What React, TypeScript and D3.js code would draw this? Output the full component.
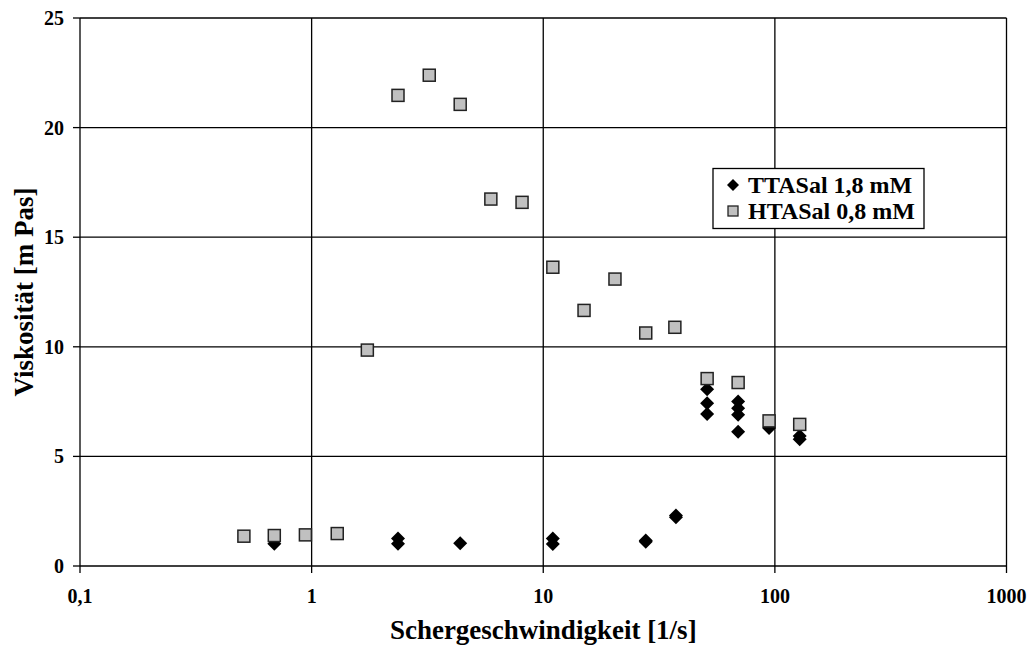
import React, { useEffect, useRef } from "react";
import * as d3 from "d3";

// Schergeschwindigkeit [1/s] and Viskosität [m Pas]
const ttasalX = [0.69, 2.36, 2.36, 4.38, 11.0, 11.0, 27.7, 27.7, 37.4, 37.4, 51, 51, 51, 69.4, 69.4, 69.4, 69.4, 94.4, 128, 128];
const ttasalY = [1.02, 1.26, 1.02, 1.04, 1.25, 1.0, 1.11, 1.16, 2.22, 2.3, 8.06, 7.42, 6.93, 7.5, 7.2, 6.9, 6.13, 6.3, 5.93, 5.78];

const htasalX = [0.51, 0.69, 0.94, 1.29, 1.74, 2.36, 3.22, 4.38, 5.94, 8.1, 11.0, 15.0, 20.4, 27.7, 37.0, 51, 69.4, 94.4, 128];
const htasalY = [1.36, 1.39, 1.42, 1.48, 9.85, 21.47, 22.39, 21.06, 16.74, 16.59, 13.63, 11.66, 13.09, 10.63, 10.89, 8.55, 8.37, 6.62, 6.46];

const xTicks = [0.1, 1, 10, 100, 1000];
const xTickLabels = ["0,1", "1", "10", "100", "1000"];
const yTicks = [0, 5, 10, 15, 20, 25];

const seriesNames = ["TTASal 1,8 mM", "HTASal 0,8 mM"];

// diamond as a square turned by 45 degrees
const diamondPath = (r: number) => `M0,${-r}L${r},0L0,${r}L${-r},0Z`;

export default function App() {
  const ref = useRef<SVGSVGElement>(null);

  useEffect(() => {
    const width = 1029;
    const height = 646;
    const margin = { left: 80, top: 18, right: 22.5, bottom: 80 };
    const font = "'Liberation Serif', 'Times New Roman', serif";

    const svg = d3.select(ref.current).attr("width", width).attr("height", height);
    svg.selectAll("*").remove();

    const x = d3.scaleLog().domain([0.1, 1000]).range([margin.left, width - margin.right]);
    const y = d3.scaleLinear().domain([0, 25]).range([height - margin.bottom, margin.top]);

    const g = svg.append("g");

    // grid
    g.selectAll("line.hgrid")
      .data(yTicks)
      .enter()
      .append("line")
      .attr("x1", x(0.1))
      .attr("x2", x(1000))
      .attr("y1", (d) => y(d))
      .attr("y2", (d) => y(d))
      .attr("stroke", "#000")
      .attr("stroke-width", 1.3);

    g.selectAll("line.vgrid")
      .data(xTicks)
      .enter()
      .append("line")
      .attr("x1", (d) => x(d))
      .attr("x2", (d) => x(d))
      .attr("y1", y(25))
      .attr("y2", y(0))
      .attr("stroke", "#000")
      .attr("stroke-width", 1.3);

    // tick marks
    g.selectAll("line.ytick")
      .data(yTicks)
      .enter()
      .append("line")
      .attr("x1", x(0.1) - 7)
      .attr("x2", x(0.1))
      .attr("y1", (d) => y(d))
      .attr("y2", (d) => y(d))
      .attr("stroke", "#000")
      .attr("stroke-width", 1.3);

    g.selectAll("line.xtick")
      .data(xTicks)
      .enter()
      .append("line")
      .attr("x1", (d) => x(d))
      .attr("x2", (d) => x(d))
      .attr("y1", y(0))
      .attr("y2", y(0) + 7)
      .attr("stroke", "#000")
      .attr("stroke-width", 1.3);

    // tick labels
    g.selectAll("text.ylab")
      .data(yTicks)
      .enter()
      .append("text")
      .attr("x", x(0.1) - 16)
      .attr("y", (d) => y(d) + 7)
      .attr("text-anchor", "end")
      .style("font-family", font)
      .style("font-weight", "bold")
      .style("font-size", "20px")
      .text((d) => String(d));

    g.selectAll("text.xlab")
      .data(xTicks)
      .enter()
      .append("text")
      .attr("x", (d) => x(d))
      .attr("y", y(0) + 37)
      .attr("text-anchor", "middle")
      .style("font-family", font)
      .style("font-weight", "bold")
      .style("font-size", "20px")
      .text((d, i) => xTickLabels[i]);

    // axis titles
    svg
      .append("text")
      .attr("x", (x(0.1) + x(1000)) / 2)
      .attr("y", 639)
      .attr("text-anchor", "middle")
      .style("font-family", font)
      .style("font-weight", "bold")
      .style("font-size", "27px")
      .text("Schergeschwindigkeit [1/s]");

    svg
      .append("text")
      .attr("transform", `translate(33,${(y(0) + y(25)) / 2}) rotate(-90)`)
      .attr("text-anchor", "middle")
      .style("font-family", font)
      .style("font-weight", "bold")
      .style("font-size", "27px")
      .text("Viskosität [m Pas]");

    // TTASal diamonds
    g.selectAll("path.tt")
      .data(ttasalX.map((v, i) => [v, ttasalY[i]]))
      .enter()
      .append("path")
      .attr("d", diamondPath(7))
      .attr("transform", (d) => `translate(${x(d[0])},${y(d[1])})`)
      .attr("fill", "#000");

    // HTASal squares
    g.selectAll("rect.ht")
      .data(htasalX.map((v, i) => [v, htasalY[i]]))
      .enter()
      .append("rect")
      .attr("x", (d) => x(d[0]) - 6)
      .attr("y", (d) => y(d[1]) - 6)
      .attr("width", 12)
      .attr("height", 12)
      .attr("fill", "#c0c0c0")
      .attr("stroke", "#222")
      .attr("stroke-width", 1.5);

    // legend
    const lg = svg.append("g").attr("transform", "translate(713,168.5)");
    lg.append("rect")
      .attr("width", 211)
      .attr("height", 60)
      .attr("fill", "#fff")
      .attr("stroke", "#000")
      .attr("stroke-width", 1.3);

    seriesNames.forEach((name, i) => {
      const cy = 16.5 + i * 26;
      if (i === 0) {
        lg.append("path")
          .attr("d", diamondPath(6))
          .attr("transform", `translate(20,${cy})`)
          .attr("fill", "#000");
      } else {
        lg.append("rect")
          .attr("x", 15)
          .attr("y", cy - 5)
          .attr("width", 10)
          .attr("height", 10)
          .attr("fill", "#c0c0c0")
          .attr("stroke", "#222")
          .attr("stroke-width", 1.3);
      }
      lg.append("text")
        .attr("x", 35)
        .attr("y", cy + 8)
        .style("font-family", font)
        .style("font-weight", "bold")
        .style("font-size", "24px")
        .text(name);
    });
  }, []);

  return (
    <div style={{ position: "absolute", left: 0, top: 0 }}>
      <svg ref={ref} style={{ display: "block" }} />
    </div>
  );
}
